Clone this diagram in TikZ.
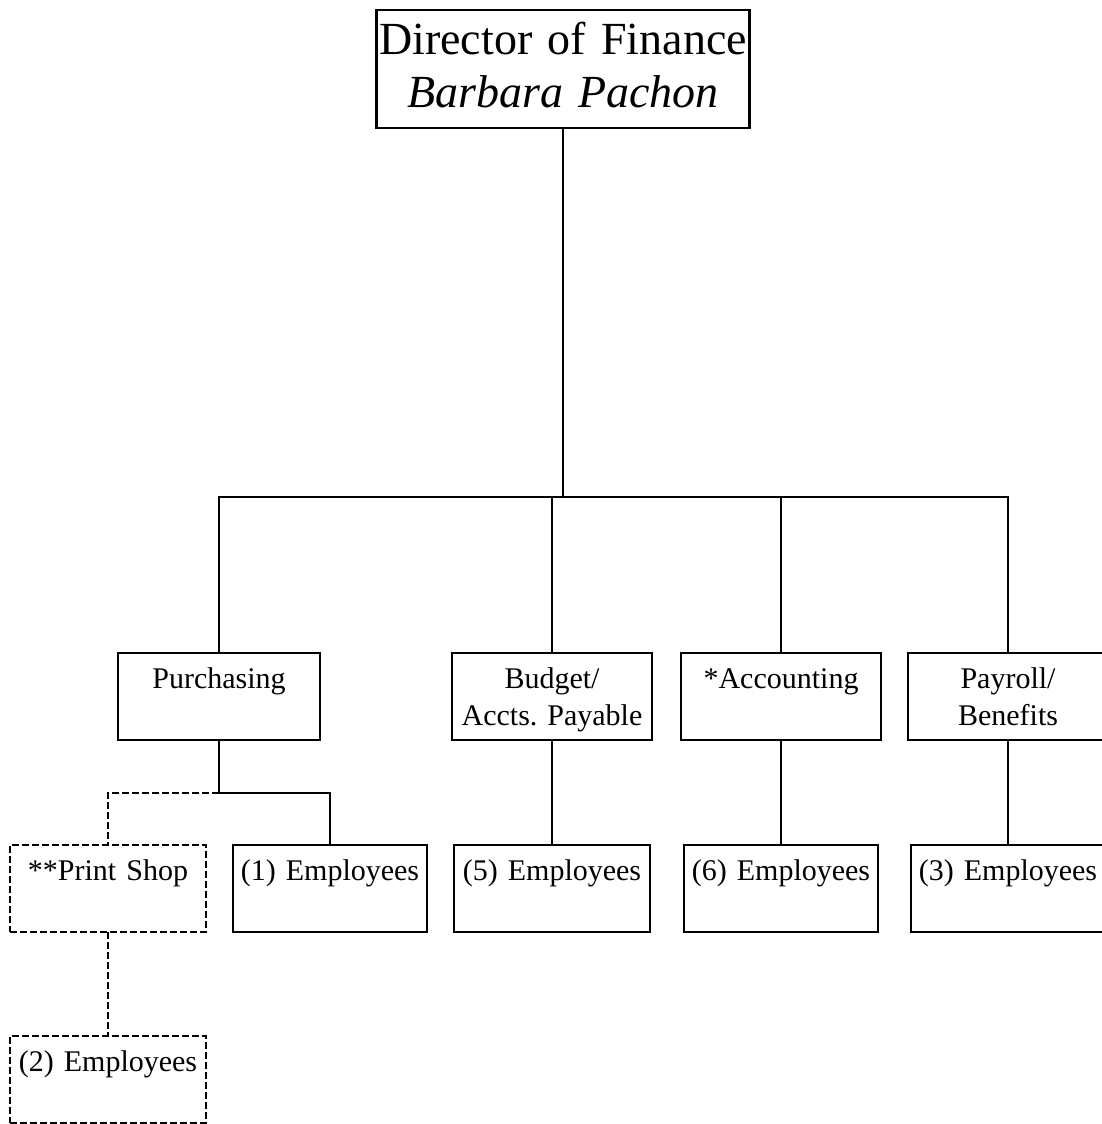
\documentclass[tikz,border=0pt]{standalone}
\usepackage{fontspec}
\setmainfont{Liberation Serif}
\frenchspacing
\usetikzlibrary{positioning}
\tikzset{
  unit box/.style={
    draw,
    line width=2.8pt,
    inner sep=0pt,
    outer sep=0pt,
    text width={#1},
    align=center,
    text height=35pt,
    text depth=52pt,
    font=\fontsize{30}{37}\selectfont,
  },
  head box/.style={
    draw,
    line width=2.8pt,
    inner sep=0pt,
    outer sep=0pt,
    text width=373pt,
    align=center,
    text height=45pt,
    text depth=73pt,
    font=\fontsize{46}{53}\selectfont,
  },
  dashed box/.style={
    unit box=#1,
    dash pattern=on 7pt off 3pt,
  },
  link/.style={
    line width=2.6pt,
  },
  dashed link/.style={
    link,
    dash pattern=on 7pt off 3pt,
  }
}

\begin{document}
\begin{tikzpicture}[x=1pt, y=1pt]
    \useasboundingbox (0,0) rectangle (1102,-1124);

    \node [head box, anchor=north] (dir) at (563,-10) {Director of Finance\\\textit{Barbara Pachon}};

    \node [unit box=202pt, anchor=north] (purch) at (219,-653) {Purchasing};
    \node [unit box=200pt, right=132pt of purch] (budget) {Budget/\\Accts. Payable};
    \node [unit box=200pt, right=29pt of budget] (acct) {*Accounting};
    \node [unit box=200pt, right=27pt of acct] (payroll) {Payroll/\\Benefits};

    \node [unit box=194pt, anchor=north] (emp1) at (330,-845) {(1) Employees};
    \node [dashed box=196pt, left=27pt of emp1] (print) {**Print Shop};
    \node [unit box=196pt, below=105pt of budget] (emp5) {(5) Employees};
    \node [unit box=194pt, below=105pt of acct] (emp6) {(6) Employees};
    \node [unit box=194pt, below=105pt of payroll] (emp3) {(3) Employees};
    \node [dashed box=196pt, below=104pt of print] (emp2) {(2) Employees};

    \coordinate (bus) at (dir.south |- 0,-497);
    \coordinate (split) at (purch.south |- 0,-793);

    \draw [link] (dir.south) -- (bus);
    \draw [link] (purch.north) |- (bus) -| (payroll.north);
    \draw [link] (budget.north) -- (budget.north |- bus);
    \draw [link] (acct.north) -- (acct.north |- bus);

    \draw [link] (purch.south) -- (split) -| (emp1.north);
    \draw [dashed link] (split) -| (print.north);
    \draw [link] (budget) -- (emp5);
    \draw [link] (acct) -- (emp6);
    \draw [link] (payroll) -- (emp3);
    \draw [dashed link] (print) -- (emp2);
\end{tikzpicture}
\end{document}
